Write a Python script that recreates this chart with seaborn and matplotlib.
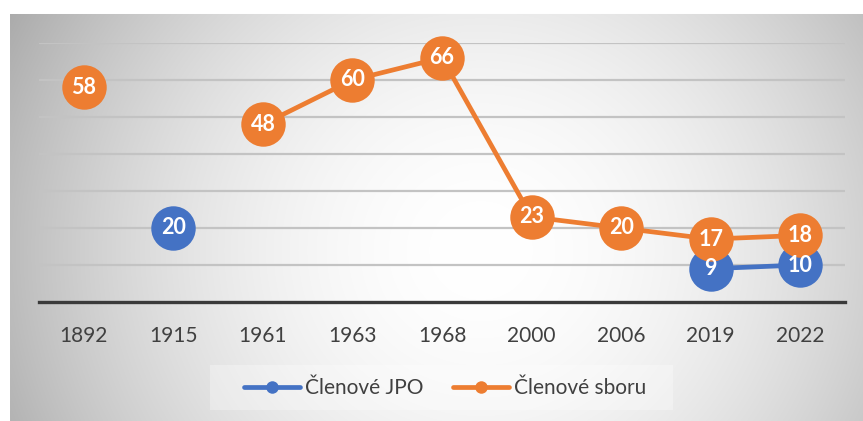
import numpy as np
import pandas as pd
import matplotlib
matplotlib.use("Agg")
import matplotlib.pyplot as plt
from matplotlib.lines import Line2D
from matplotlib.patches import Rectangle
import seaborn as sns

years = ['1892', '1915', '1961', '1963', '1968', '2000', '2006', '2019', '2022']
jpo = [np.nan, 20, np.nan, np.nan, np.nan, np.nan, np.nan, 9, 10]
sbor = [58, np.nan, 48, 60, 66, 23, 20, 17, 18]
series_names = ['Členové JPO', 'Členové sboru']
colors = ['#4472C4', '#ED7D31']

sns.set_theme(style='white')
plt.rcParams['font.family'] = ['Lato', 'DejaVu Sans']

W, H = 863, 421
fig = plt.figure(figsize=(W / 100, H / 100), dpi=100)

# background radial gradient
bg = fig.add_axes([0, 0, 1, 1], zorder=-10)
yy, xx = np.mgrid[0:H, 0:W]
cx, cy = 480, 250
d = np.sqrt(((xx - cx) / 440.0) ** 2 + ((yy - cy) / 420.0) ** 2)
val = 1.0 - 0.23 * np.clip(d, 0, 1.3) ** 1.9
img = np.dstack([val, val, val])
mask = (xx < 10) | (yy < 14)
img[mask] = 1.0
bg.imshow(img, extent=[0, W, H, 0], aspect='auto', interpolation='bilinear')
bg.set_xlim(0, W)
bg.set_ylim(H, 0)
# legend box
bg.add_patch(Rectangle((210, 365), 463, 45, facecolor='white', alpha=0.3,
                       edgecolor='none'))
bg.axis('off')

# main axes
left, right = 39, 845
top, bottom = 43, 302
ax = fig.add_axes([left / W, 1 - bottom / H, (right - left) / W, (bottom - top) / H])
ax.patch.set_alpha(0)

rows = []
for sname, vals in zip(series_names, [jpo, sbor]):
    seg = 0
    prev_nan = True
    for i, v in enumerate(vals):
        if np.isnan(v):
            prev_nan = True
            continue
        if prev_nan:
            seg += 1
        prev_nan = False
        rows.append({'pos': i, 'value': v, 'series': sname, 'seg': seg})
df = pd.DataFrame(rows)

for sname, col in zip(series_names, colors):
    sub = df[df['series'] == sname]
    sns.lineplot(data=sub, x='pos', y='value', units='seg', estimator=None,
                 color=col, marker='o', markersize=32, markeredgewidth=0,
                 linewidth=3.4, ax=ax, legend=False, clip_on=False, zorder=3,
                 sort=True)

for vals in [jpo, sbor]:
    for i, v in enumerate(vals):
        if not np.isnan(v):
            ax.text(i, v, f'{int(v)}', ha='center', va='center', color='white',
                    fontsize=15.5, fontweight='bold', zorder=5, clip_on=False)

ax.set_xlim(-0.5, len(years) - 0.5)
ax.set_ylim(0, 70)
ax.set_yticks(np.arange(10, 71, 10))
ax.yaxis.grid(True, color='#c3c3c3', linewidth=1.6)
ax.set_axisbelow(True)
ax.set_yticklabels([])
ax.tick_params(axis='y', length=0)
ax.set_xticks(range(len(years)))
ax.set_xticklabels(years, fontsize=15, color='#404040')
ax.tick_params(axis='x', length=0, pad=17)
ax.set_xlabel('')
ax.set_ylabel('')
for s in ['top', 'right', 'left']:
    ax.spines[s].set_visible(False)
ax.spines['bottom'].set_color('#3a3a3a')
ax.spines['bottom'].set_linewidth(2.4)

handles = [Line2D([0], [0], color=c, linewidth=3.4, marker='o', markersize=9,
                  markeredgewidth=0) for c in colors]
leg = fig.legend(handles, series_names, loc='center',
                 bbox_to_anchor=(445 / W, 1 - 388 / H),
                 ncol=2, fontsize=15, frameon=False, handlelength=2.7,
                 handletextpad=0.2, columnspacing=1.45, borderpad=0.3)
for t in leg.get_texts():
    t.set_color('#404040')

fig.savefig('out.png', dpi=100)
